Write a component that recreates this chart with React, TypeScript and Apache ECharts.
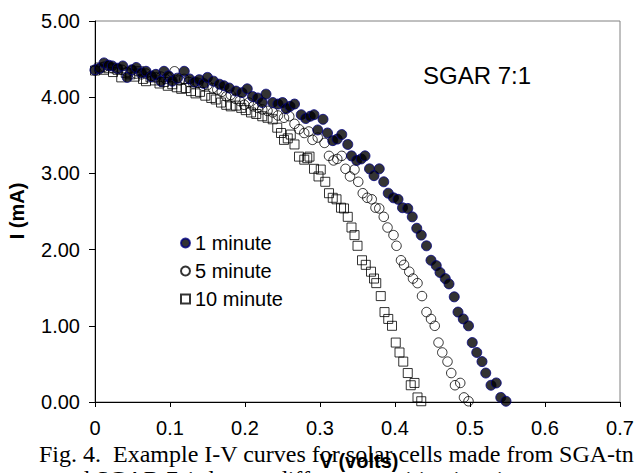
import React, { useEffect, useRef } from "react";
import * as echarts from "echarts";

const seriesNames = ["1 minute", "5 minute", "10 minute"];
const xTicks = [0, 0.1, 0.2, 0.3, 0.4, 0.5, 0.6, 0.7];
const yTicks = [0, 1, 2, 3, 4, 5];

const oneMinute: number[][] = [
  [0.0, 4.36], [0.006, 4.38], [0.012, 4.45], [0.018, 4.42], [0.023, 4.41], [0.03, 4.38],
  [0.037, 4.41], [0.043, 4.26], [0.049, 4.36], [0.055, 4.39], [0.062, 4.32], [0.068, 4.34],
  [0.075, 4.27], [0.081, 4.3], [0.088, 4.21], [0.092, 4.34], [0.098, 4.28], [0.103, 4.21],
  [0.11, 4.25], [0.119, 4.34], [0.126, 4.24], [0.133, 4.2], [0.139, 4.23], [0.145, 4.18],
  [0.15, 4.26], [0.158, 4.21], [0.166, 4.17], [0.172, 4.15], [0.179, 4.12], [0.188, 4.08],
  [0.196, 4.06], [0.203, 4.11], [0.21, 4.01], [0.217, 3.99], [0.223, 3.93], [0.228, 4.04],
  [0.237, 3.93], [0.244, 3.91], [0.25, 3.93], [0.255, 3.85], [0.26, 3.88], [0.266, 3.91],
  [0.275, 3.77], [0.281, 3.72], [0.287, 3.75], [0.292, 3.77], [0.297, 3.57], [0.304, 3.71],
  [0.31, 3.53], [0.317, 3.43], [0.323, 3.45], [0.329, 3.51], [0.337, 3.38], [0.342, 3.23],
  [0.349, 3.17], [0.355, 3.19], [0.36, 3.23], [0.366, 3.06], [0.372, 2.97], [0.379, 3.06],
  [0.385, 2.89], [0.391, 2.74], [0.398, 2.68], [0.404, 2.66], [0.41, 2.55], [0.417, 2.54],
  [0.423, 2.43], [0.429, 2.28], [0.435, 2.19], [0.442, 2.05], [0.448, 1.86], [0.455, 1.79],
  [0.46, 1.7], [0.467, 1.62], [0.472, 1.55], [0.479, 1.38], [0.484, 1.18], [0.491, 1.09],
  [0.498, 1.0], [0.503, 0.78], [0.509, 0.65], [0.516, 0.53], [0.521, 0.38], [0.528, 0.22],
  [0.535, 0.25], [0.541, 0.06], [0.548, 0.01],
];

const fiveMinute: number[][] = [
  [0.0, 4.35], [0.006, 4.37], [0.012, 4.4], [0.018, 4.41], [0.024, 4.38], [0.03, 4.37],
  [0.036, 4.36], [0.043, 4.33], [0.049, 4.35], [0.055, 4.31], [0.062, 4.3], [0.068, 4.31],
  [0.075, 4.28], [0.081, 4.26], [0.088, 4.27], [0.094, 4.24], [0.1, 4.26], [0.106, 4.34],
  [0.113, 4.22], [0.119, 4.24], [0.125, 4.2], [0.131, 4.18], [0.137, 4.19], [0.144, 4.15],
  [0.15, 4.16], [0.157, 4.12], [0.163, 4.1], [0.169, 4.07], [0.175, 4.01], [0.181, 4.03],
  [0.187, 3.98], [0.193, 3.95], [0.199, 3.9], [0.205, 3.93], [0.211, 3.88], [0.217, 3.86],
  [0.223, 3.84], [0.23, 3.82], [0.237, 3.8], [0.244, 3.76], [0.252, 3.73], [0.259, 3.75],
  [0.266, 3.65], [0.272, 3.58], [0.279, 3.53], [0.285, 3.55], [0.29, 3.44], [0.297, 3.47],
  [0.306, 3.4], [0.312, 3.23], [0.318, 3.17], [0.323, 3.19], [0.329, 3.23], [0.334, 3.06],
  [0.34, 2.96], [0.346, 3.05], [0.351, 2.89], [0.357, 2.74], [0.363, 2.68], [0.369, 2.66],
  [0.374, 2.55], [0.379, 2.54], [0.385, 2.43], [0.39, 2.29], [0.398, 2.19], [0.402, 2.05],
  [0.408, 1.86], [0.412, 1.8], [0.419, 1.71], [0.424, 1.62], [0.43, 1.56], [0.436, 1.39],
  [0.442, 1.18], [0.448, 1.09], [0.453, 1.0], [0.458, 0.78], [0.463, 0.65], [0.47, 0.53],
  [0.475, 0.38], [0.48, 0.22], [0.487, 0.25], [0.492, 0.06], [0.498, 0.01],
];

const tenMinute: number[][] = [
  [0.0, 4.35], [0.006, 4.39], [0.012, 4.36], [0.018, 4.38], [0.024, 4.33], [0.03, 4.36],
  [0.035, 4.26], [0.041, 4.32], [0.047, 4.3], [0.053, 4.27], [0.059, 4.34], [0.064, 4.24],
  [0.068, 4.21], [0.074, 4.26], [0.08, 4.22], [0.086, 4.18], [0.092, 4.2], [0.097, 4.15],
  [0.103, 4.17], [0.109, 4.13], [0.115, 4.11], [0.121, 4.12], [0.128, 4.08], [0.134, 4.05],
  [0.14, 4.07], [0.147, 4.02], [0.155, 3.99], [0.161, 3.97], [0.168, 3.93], [0.175, 3.9],
  [0.181, 3.88], [0.188, 3.89], [0.195, 3.86], [0.201, 3.83], [0.208, 3.8], [0.215, 3.78],
  [0.223, 3.75], [0.23, 3.73], [0.237, 3.71], [0.243, 3.6], [0.248, 3.53], [0.252, 3.44],
  [0.257, 3.46], [0.261, 3.51], [0.266, 3.38], [0.272, 3.22], [0.279, 3.18], [0.283, 3.2],
  [0.286, 3.22], [0.292, 3.06], [0.298, 2.96], [0.301, 3.05], [0.307, 2.89], [0.312, 2.74],
  [0.317, 2.68], [0.322, 2.66], [0.328, 2.55], [0.332, 2.54], [0.337, 2.43], [0.342, 2.29],
  [0.346, 2.19], [0.35, 2.05], [0.356, 1.86], [0.361, 1.8], [0.368, 1.71], [0.372, 1.62],
  [0.375, 1.56], [0.381, 1.39], [0.386, 1.18], [0.391, 1.09], [0.396, 1.0], [0.401, 0.78],
  [0.406, 0.65], [0.411, 0.53], [0.417, 0.38], [0.421, 0.22], [0.426, 0.25], [0.43, 0.06],
  [0.435, 0.01],
];

const annotation = "SGAR 7:1";
const xName = "V (volts)";
const yName = "I (mA)";
const captionLine1 = "Fig. 4.\u00a0 Example I-V curves for solar cells made from SGA-tn";
const captionLine2 = "and SGAR 7:1 dyes at different sensitization times.";

const SANS = "'Liberation Sans', Arial, sans-serif";
const SERIF = "'Liberation Serif', 'Times New Roman', serif";

export default function App() {
  const ref = useRef<HTMLDivElement>(null);
  useEffect(() => {
    document.body.style.margin = "0";
    if (!ref.current) return;
    const chart = echarts.init(ref.current, undefined, { renderer: "svg" });
    const hollow = "rgba(0,0,0,0)";
    chart.setOption({
      animation: false,
      backgroundColor: "#ffffff",
      grid: {
        left: 95,
        top: 21,
        right: 20,
        bottom: 71,
        show: true,
        borderColor: "#808080",
        borderWidth: 1,
        backgroundColor: "transparent",
      },
      legend: {
        orient: "vertical",
        left: 175,
        top: 228,
        itemWidth: 9,
        itemHeight: 9,
        itemGap: 8,
        data: seriesNames,
        textStyle: { fontFamily: SANS, fontSize: 20, color: "#000", lineHeight: 20 },
      },
      xAxis: {
        type: "value",
        min: xTicks[0],
        max: xTicks[xTicks.length - 1],
        interval: 0.1,
        axisLine: { show: true, onZero: false, lineStyle: { color: "#000", width: 1 } },
        axisTick: { show: true, inside: false, length: 5, lineStyle: { color: "#000" } },
        splitLine: { show: false },
        axisLabel: {
          margin: 16,
          fontFamily: SANS,
          fontSize: 20,
          color: "#000",
          formatter: (v: number) => (Math.abs(v) < 1e-9 ? "0" : v.toFixed(1)),
        },
      },
      yAxis: {
        type: "value",
        min: yTicks[0],
        max: yTicks[yTicks.length - 1],
        interval: 1,
        axisLine: { show: true, onZero: false, lineStyle: { color: "#000", width: 1 } },
        axisTick: { show: true, inside: false, length: 6, lineStyle: { color: "#000" } },
        splitLine: { show: false },
        axisLabel: {
          margin: 15,
          fontFamily: SANS,
          fontSize: 20,
          color: "#000",
          formatter: (v: number) => v.toFixed(2),
        },
      },
      series: [
        {
          name: seriesNames[2],
          type: "scatter",
          symbol: "rect",
          symbolSize: 9,
          z: 2,
          itemStyle: { color: hollow, borderColor: "#000", borderWidth: 1 },
          data: tenMinute,
        },
        {
          name: seriesNames[1],
          type: "scatter",
          symbol: "circle",
          symbolSize: 9.5,
          z: 2,
          itemStyle: { color: hollow, borderColor: "#000", borderWidth: 1 },
          data: fiveMinute,
        },
        {
          name: seriesNames[0],
          type: "scatter",
          symbol: "circle",
          symbolSize: 10,
          z: 3,
          itemStyle: { color: "#000", borderColor: "#000080", borderWidth: 1 },
          data: oneMinute,
        },
      ],
      graphic: [
        {
          type: "text",
          x: 423,
          y: 75,
          style: {
            text: annotation,
            font: `24px ${SANS}`,
            fill: "#000",
            verticalAlign: "middle",
          },
        },
        {
          type: "text",
          x: 17,
          y: 211,
          rotation: Math.PI / 2,
          style: {
            text: yName,
            font: `bold 20px ${SANS}`,
            fill: "#000",
            align: "center",
            verticalAlign: "middle",
          },
        },
        {
          type: "text",
          x: 39,
          y: 454,
          style: {
            text: captionLine1,
            font: `24px ${SERIF}`,
            fill: "#000",
            verticalAlign: "middle",
          },
        },
        {
          type: "text",
          x: 55,
          y: 479,
          style: {
            text: captionLine2,
            font: `24px ${SERIF}`,
            fill: "#000",
            verticalAlign: "middle",
          },
        },
        {
          type: "text",
          x: 359,
          y: 461,
          style: {
            text: xName,
            font: `bold 20px ${SANS}`,
            fill: "#000",
            align: "center",
            verticalAlign: "middle",
          },
        },
      ],
    });
    return () => chart.dispose();
  }, []);
  return <div ref={ref} style={{ width: 640, height: 473 }} />;
}
